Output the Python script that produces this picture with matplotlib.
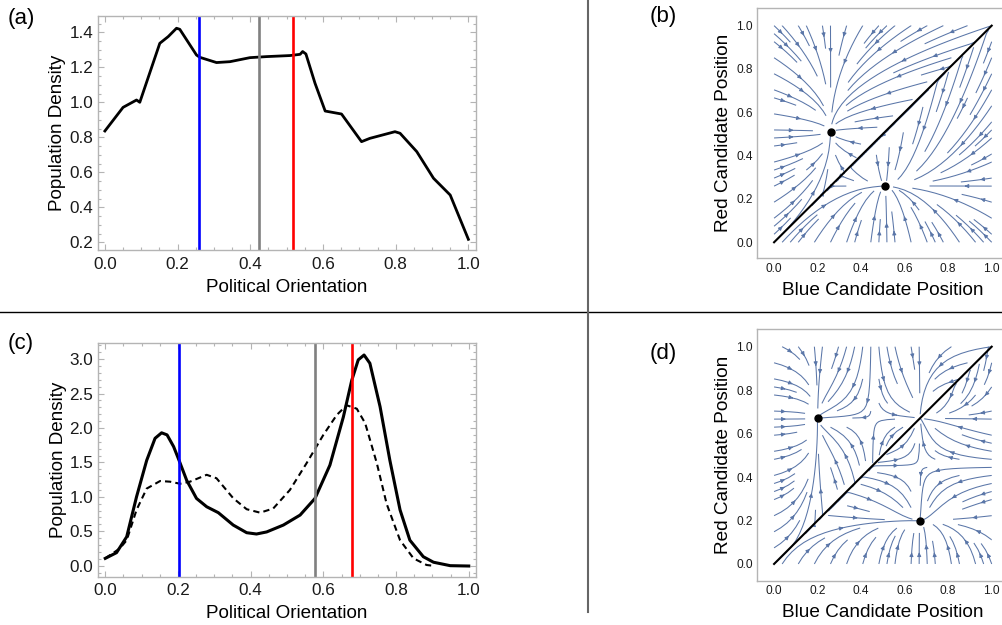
import inspect

import matplotlib
matplotlib.use('Agg')
import matplotlib.pyplot as plt
import numpy as np
from matplotlib.lines import Line2D
from matplotlib.ticker import MultipleLocator

plt.rcParams['font.family'] = ['Liberation Sans', 'DejaVu Sans']

# panel (a): population density vs political orientation
orient_a = [0.0, 0.05, 0.087, 0.096, 0.151, 0.174, 0.197, 0.206, 0.252, 0.261,
            0.307, 0.344, 0.399, 0.445, 0.509, 0.537, 0.544, 0.553, 0.578,
            0.606, 0.651, 0.706, 0.729, 0.798, 0.812, 0.858, 0.904, 0.95, 1.0]
density_a = [0.836, 0.971, 1.013, 1.0, 1.337, 1.375, 1.423, 1.417, 1.27, 1.257,
             1.227, 1.232, 1.255, 1.261, 1.267, 1.274, 1.29, 1.276, 1.109,
             0.95, 0.933, 0.775, 0.794, 0.832, 0.823, 0.718, 0.566, 0.47, 0.217]
blue_a, grey_a, red_a = 0.259, 0.423, 0.517

# panel (c): bimodal density (solid) and comparison density (dashed)
orient_c = [0.0, 0.031, 0.059, 0.086, 0.114, 0.137, 0.155, 0.17, 0.188, 0.203,
            0.224, 0.251, 0.279, 0.311, 0.352, 0.389, 0.416, 0.444, 0.49, 0.536,
            0.577, 0.618, 0.655, 0.678, 0.696, 0.712, 0.728, 0.756, 0.783,
            0.811, 0.838, 0.875, 0.903, 0.949, 1.0]
density_c = [0.106, 0.189, 0.42, 1.0, 1.53, 1.85, 1.93, 1.9, 1.73, 1.53,
             1.24, 0.977, 0.856, 0.77, 0.59, 0.479, 0.46, 0.49, 0.59, 0.735,
             0.977, 1.46, 2.16, 2.69, 2.99, 3.06, 2.94, 2.31, 1.53,
             0.81, 0.37, 0.13, 0.05, 0.0, -0.005]
orient_c_dash = [0.0, 0.04, 0.059, 0.086, 0.114, 0.151, 0.178, 0.206, 0.233,
                 0.279, 0.306, 0.352, 0.389, 0.426, 0.462, 0.508, 0.554, 0.6,
                 0.637, 0.664, 0.692, 0.715, 0.747, 0.774, 0.811, 0.848,
                 0.884, 0.9]
density_c_dash = [0.106, 0.25, 0.37, 0.81, 1.12, 1.23, 1.22, 1.19, 1.22,
                  1.32, 1.27, 0.98, 0.82, 0.77, 0.83, 1.1, 1.49, 1.9,
                  2.19, 2.33, 2.28, 2.07, 1.49, 0.9, 0.37, 0.106,
                  0.01, 0.0]
blue_c, grey_c, red_c = 0.203, 0.578, 0.679

# stable points of the candidate dynamics (blue, red), mirrored below diagonal
node_b = (0.26, 0.51)
node_d = (0.20, 0.67)
split_d = 0.45   # unstable position between the two modes in (c)

stream_col = '#5a76a8'
frame_col = '#b4b4b4'


def style_frame(ax, xminor, yminor, size, pad_x, pad_y):
    for sp in ax.spines.values():
        sp.set_color(frame_col)
        sp.set_linewidth(1.0)
    ax.xaxis.set_minor_locator(MultipleLocator(xminor))
    ax.yaxis.set_minor_locator(MultipleLocator(yminor))
    ax.tick_params(which='both', direction='in', top=True, right=True,
                   color=frame_col, width=0.8, labelcolor='#1a1a1a')
    ax.tick_params(which='major', length=4, labelsize=size)
    ax.tick_params(which='minor', length=2)
    ax.tick_params(axis='x', pad=pad_x)
    ax.tick_params(axis='y', pad=pad_y)


def flow(X, Y, fast, slow):
    # upper triangle: blue (x) left of red (y); lower one is the mirror image
    up = Y >= X
    U = np.where(up, fast(X), slow(X))
    V = np.where(up, slow(Y), fast(Y))
    return U, V


fig = plt.figure(figsize=(10.03, 6.25), dpi=100)

# ---- (a)
ax_a = fig.add_axes([0.0977, 0.6, 0.3769, 0.3744])
ax_a.plot(orient_a, density_a, color='black', lw=2.0)
ax_a.axvline(blue_a, color='#0000ff', lw=1.9)
ax_a.axvline(grey_a, color='#808080', lw=1.9)
ax_a.axvline(red_a, color='#ff0000', lw=1.9)
ax_a.set_xlim(-0.019, 1.021)
ax_a.set_ylim(0.156, 1.493)
ax_a.set_xticks(np.arange(0, 1.01, 0.2))
ax_a.set_yticks(np.arange(0.2, 1.41, 0.2))
style_frame(ax_a, 0.05, 0.05, 12.3, 4.8, 3.5)
ax_a.set_xlabel('Political Orientation', fontsize=13.6, labelpad=5)
ax_a.set_ylabel('Population Density', fontsize=13.6, labelpad=2)

# ---- (c)
ax_c = fig.add_axes([0.0977, 0.0773, 0.3769, 0.3734])
ax_c.plot(orient_c_dash, density_c_dash, color='black', lw=1.5,
          ls=(0, (3, 2)))
ax_c.plot(orient_c, density_c, color='black', lw=2.2)
ax_c.axvline(blue_c, color='#0000ff', lw=1.9)
ax_c.axvline(grey_c, color='#808080', lw=1.9)
ax_c.axvline(red_c, color='#ff0000', lw=1.9)
ax_c.set_xlim(-0.02, 1.02)
ax_c.set_ylim(-0.16, 3.23)
ax_c.set_xticks(np.arange(0, 1.01, 0.2))
ax_c.set_yticks(np.arange(0, 3.01, 0.5))
style_frame(ax_c, 0.05, 0.1, 12.3, 4.8, 3.5)
ax_c.set_xlabel('Political Orientation', fontsize=13.6, labelpad=5)
ax_c.set_ylabel('Population Density', fontsize=13.6, labelpad=2)

# ---- stream plots (b) and (d)
g = np.linspace(0, 1, 101)
X, Y = np.meshgrid(g, g)

bx, ry = node_b
U_b, V_b = flow(X, Y, lambda s: -2.0 * (s - bx), lambda s: -1.0 * (s - ry))

dx, dy = node_d
U_d, V_d = flow(X, Y,
                lambda s: -25.0 * (s - dx) * (s - split_d) * (s - dy),
                lambda s: -1.5 * (s - dy))

panels = [([0.7544, 0.5867, 0.2517, 0.4], U_b, V_b, node_b, (-0.074, 1.08)),
          ([0.7544, 0.0709, 0.2517, 0.4022], U_d, V_d, node_d, (-0.077, 1.08))]
for pos, U, V, node, ylim in panels:
    ax = fig.add_axes(pos)
    kw = dict(density=0.95, color=stream_col, linewidth=0.75, arrowsize=0.55)
    if 'num_arrows' in inspect.signature(ax.streamplot).parameters:
        kw['num_arrows'] = 2
    ax.streamplot(X, Y, U, V, **kw)
    ax.plot([0, 1], [0, 1], color='black', lw=1.5)
    ax.plot([node[0], node[1]], [node[1], node[0]], 'o', color='black', ms=5)
    ax.set_xlim(-0.08, 1.08)
    ax.set_ylim(*ylim)
    ax.set_xticks(np.arange(0, 1.01, 0.2))
    ax.set_yticks(np.arange(0, 1.01, 0.2))
    style_frame(ax, 0.05, 0.05, 8.6, 3.4, 2.7)
    ax.tick_params(which='both', length=0)
    ax.set_xlabel('Blue Candidate Position', fontsize=13.7, labelpad=5)
    ax.set_ylabel('Red Candidate Position', fontsize=13.7, labelpad=3)

# panel letters
for x, y, s in [(8, 8, '(a)'), (650, 6, '(b)'), (8, 333, '(c)'), (650, 343, '(d)')]:
    fig.text(x / 1003, 1 - y / 625, s, fontsize=16, va='top', ha='left')

# dividers
fig.add_artist(Line2D([0, 1], [1 - 311.7 / 625] * 2, color='black', lw=1.0))
fig.add_artist(Line2D([587.7 / 1003] * 2, [1, 1 - 612 / 625], color='#666666',
                      lw=1.5))

fig.savefig('out.png', dpi=100)
